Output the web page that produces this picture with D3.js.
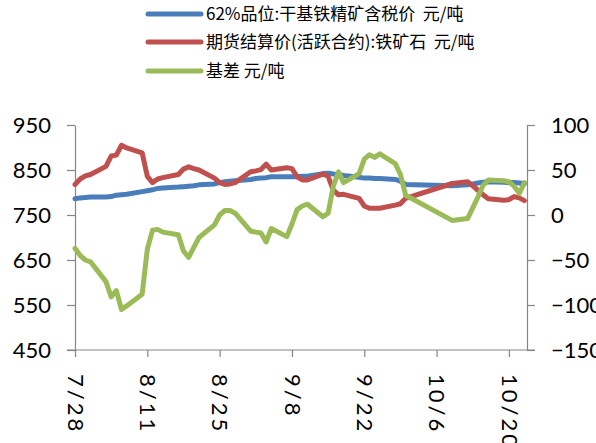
<!DOCTYPE html>
<html>
<head>
<meta charset="utf-8">
<script src="https://cdn.jsdelivr.net/npm/d3@7"></script>
<style>
  body { margin: 0; background: #fff; }
  svg { display: block; }
  .axis path, .axis line { stroke: #868686; stroke-width: 1.2; }
  .axis text { font-family: Lato, "Liberation Sans", sans-serif; font-size: 22px; fill: #000; }
  .legend text { font-family: "Noto Sans CJK SC", sans-serif; font-size: 17px; fill: #000; }
</style>
</head>
<body>
<div id="chart"></div>
<script>
// size of the picture
var width = 596, height = 443;

// trading days (2020)
var dates = [
  "07-28", "07-29", "07-30", "07-31",
  "08-03", "08-04", "08-05", "08-06", "08-07",
  "08-10", "08-11", "08-12", "08-13", "08-14",
  "08-17", "08-18", "08-19", "08-20", "08-21",
  "08-24", "08-25", "08-26", "08-27", "08-28",
  "08-31", "09-01", "09-02", "09-03", "09-04",
  "09-07", "09-08", "09-09", "09-10", "09-11",
  "09-14", "09-15", "09-16", "09-17", "09-18",
  "09-21", "09-22", "09-23", "09-24", "09-25",
  "09-28", "09-29", "09-30",
  "10-09",
  "10-12", "10-13", "10-14", "10-15", "10-16",
  "10-19", "10-20", "10-21", "10-22", "10-23"
];

// 62% 干基铁精矿含税价 (left axis)
var spotPrice = [
  786, 788, 789, 790,
  790, 791, 794, 795, 796,
  802, 804, 806, 809, 810,
  812, 813, 814, 815, 817,
  819, 822, 824, 825, 826,
  829, 831, 832, 833, 835,
  835, 835, 835, 836, 836,
  842, 843, 841, 840, 838,
  834, 832, 832, 831, 831,
  829, 825, 818,
  815,
  817, 819, 821, 823, 824,
  823, 822, 822, 821, 820
];

// 期货结算价 活跃合约 (left axis)
var futuresPrice = [
  818, 830, 837, 840,
  858, 881, 883, 905, 899,
  888, 836, 822, 830, 833,
  840, 852, 857, 853, 850,
  832, 822, 818, 819, 822,
  846, 848, 851, 863, 850,
  855, 853, 835, 828, 828,
  841, 836, 805, 795, 796,
  787, 770, 765, 765, 765,
  772, 775, 787,
  820,
  824, 815, 805, 795, 786,
  783, 784, 791, 788, 782
];

// 基差 (right axis)
var basis = [
  -37, -45, -50, -52,
  -74, -91, -84, -105, -101,
  -88, -38, -17, -16, -19,
  -22, -40, -47, -36, -25,
  -11, 0, 5, 5, 2,
  -18, -19, -20, -30, -15,
  -24, -10, 6, 10, 12,
  -2, 2, 32, 48, 36,
  46, 62, 67, 64, 68,
  57, 45, 22,
  -6,
  -4, 8, 20, 33, 39,
  38, 37, 32, 24, 36
];

var leftTicks = [450, 550, 650, 750, 850, 950];
var rightTicks = [-150, -100, -50, 0, 50, 100];
var xTicks = ["07-28", "08-11", "08-25", "09-08", "09-22", "10-06", "10-20"];

var seriesNames = [
  "62%品位:干基铁精矿含税价\u00a0\u00a0元/吨",
  "期货结算价(活跃合约):铁矿石\u00a0\u00a0元/吨",
  "基差 元/吨"
];
var seriesColors = ["#4a7ebb", "#c0504d", "#9bbb59"];

var parseDay = function(s) { return d3.timeParse("%Y-%m-%d")("2020-" + s); };

var svg = d3.select("#chart")
    .append("svg")
    .attr("width", width)
    .attr("height", height);

// plot area
var plotLeft = 75, plotRight = 527, plotTop = 125, plotBottom = 350;

var x = d3.scaleTime()
    .domain([parseDay("07-28"), d3.timeHour.offset(parseDay("10-23"), 12)])
    .range([plotLeft, plotRight]);

var yLeft = d3.scaleLinear().domain([450, 950]).range([plotBottom, plotTop]);
var yRight = d3.scaleLinear().domain([-150, 100]).range([plotBottom, plotTop]);

// axes
svg.append("g")
    .attr("class", "axis")
    .attr("transform", "translate(" + plotLeft + ",0)")
    .call(d3.axisLeft(yLeft).tickValues(leftTicks).tickSize(8).tickSizeOuter(0).tickPadding(16));

svg.append("g")
    .attr("class", "axis")
    .attr("transform", "translate(" + plotRight + ",0)")
    .call(d3.axisRight(yRight).tickValues(rightTicks).tickSize(8).tickSizeOuter(0).tickPadding(16));

var xAxis = svg.append("g")
    .attr("class", "axis")
    .attr("transform", "translate(0," + plotBottom + ")")
    .call(d3.axisBottom(x)
        .tickValues(xTicks.map(parseDay))
        .tickFormat(d3.timeFormat("%-m/%-d"))
        .tickSize(7)
        .tickSizeOuter(0));

xAxis.selectAll("text")
    .attr("transform", "rotate(90)")
    .attr("x", 24)
    .attr("y", 0)
    .attr("dy", "0.35em")
    .style("letter-spacing", "3px")
    .style("text-anchor", "start");

// the x axis line runs from the left tick to the right tick
xAxis.select(".domain").remove();
svg.append("line")
    .attr("x1", plotLeft - 8).attr("x2", plotRight + 8)
    .attr("y1", plotBottom).attr("y2", plotBottom)
    .attr("stroke", "#868686").attr("stroke-width", 1.2);

// lines
var rows = dates.map(function(d, i) {
  return { date: parseDay(d), spot: spotPrice[i], fut: futuresPrice[i], basis: basis[i] };
});

var lineSpot = d3.line().x(function(d) { return x(d.date); }).y(function(d) { return yLeft(d.spot); });
var lineFut = d3.line().x(function(d) { return x(d.date); }).y(function(d) { return yLeft(d.fut); });
var lineBasis = d3.line().x(function(d) { return x(d.date); }).y(function(d) { return yRight(d.basis); });

[lineSpot, lineFut, lineBasis].forEach(function(gen, i) {
  svg.append("path")
      .datum(rows)
      .attr("d", gen)
      .attr("fill", "none")
      .attr("stroke", seriesColors[i])
      .attr("stroke-width", 5)
      .attr("stroke-linejoin", "round")
      .attr("stroke-linecap", "round");
});

// legend
var legend = svg.append("g").attr("class", "legend");
var legendY = [14, 42, 71];
seriesNames.forEach(function(name, i) {
  legend.append("line")
      .attr("x1", 148).attr("x2", 201)
      .attr("y1", legendY[i]).attr("y2", legendY[i])
      .attr("stroke", seriesColors[i])
      .attr("stroke-width", 5)
      .attr("stroke-linecap", "round");
  legend.append("text")
      .attr("x", 206)
      .attr("y", legendY[i])
      .attr("dy", "0.36em")
      .text(name);
});
</script>
</body>
</html>
